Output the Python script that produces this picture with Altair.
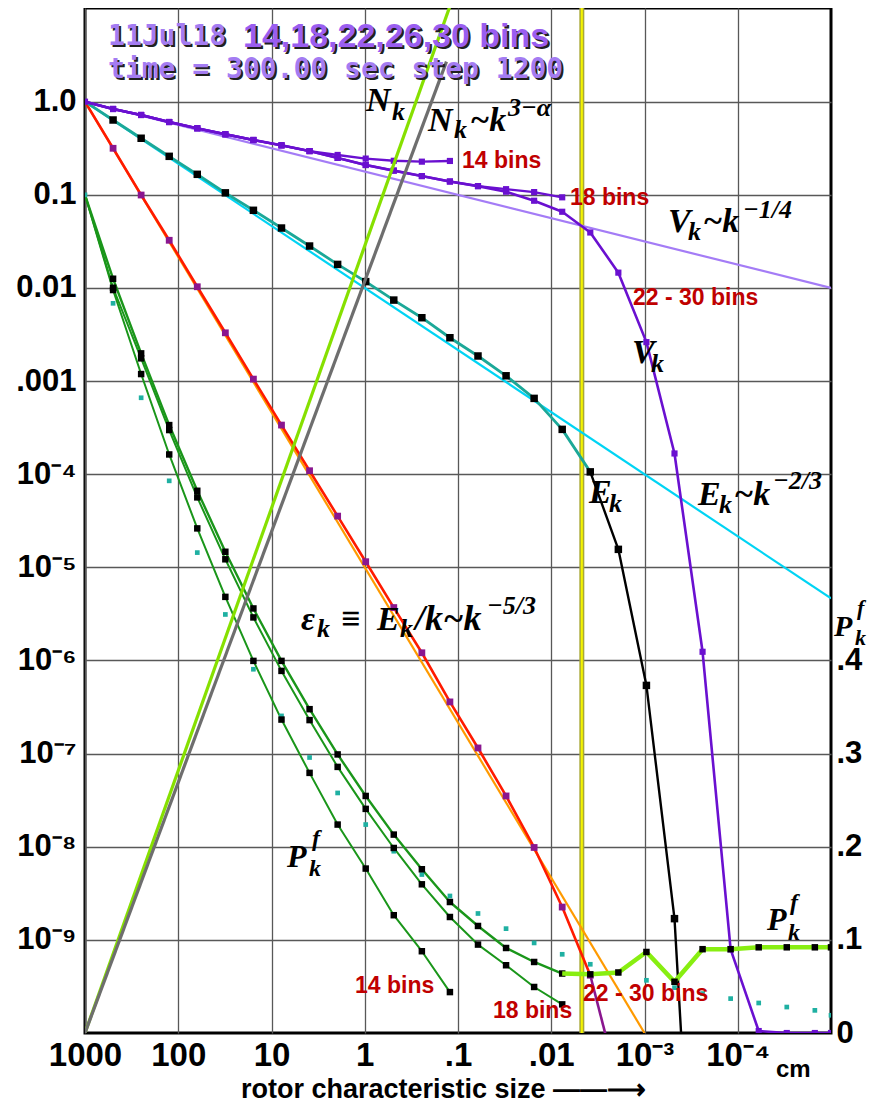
import math
import altair as alt
import pandas as pd

# ---------------- data ----------------
# bin sizes (cm), one bin per factor of two, last one at the chart edge
SIZES = [1000, 500, 250, 125, 62.5, 31.25, 15.63, 7.813, 3.906, 1.953,
         0.9766, 0.4883, 0.2441, 0.1221, 0.06104, 0.03052, 0.01526, 0.00763,
         0.003815, 0.001907, 9.537e-4, 4.768e-4, 2.384e-4, 1.192e-4,
         5.96e-5, 2.98e-5, 1.49e-5, 1.0e-5]

V_14 = [1.0, 0.835, 0.72, 0.605, 0.518, 0.447, 0.388, 0.340, 0.295, 0.268,
        0.245, 0.232, 0.227, 0.231]
V_18 = [1.0, 0.835, 0.72, 0.605, 0.518, 0.447, 0.388, 0.340, 0.295, 0.249,
        0.209, 0.182, 0.159, 0.139, 0.124, 0.115, 0.107, 0.094]
V_30 = [1.0, 0.835, 0.72, 0.605, 0.518, 0.447, 0.388, 0.340, 0.295, 0.249,
        0.209, 0.182, 0.159, 0.139, 0.124, 0.108, 0.0864, 0.0658, 0.0394,
        0.0146, 0.00262, 1.67e-4, 1.24e-6, 7.9e-10, 1.05e-10, 1e-10, 1e-10, 1e-10]

E_K = [1.0, 0.636, 0.405, 0.259, 0.166, 0.105, 0.0682, 0.044, 0.0282, 0.0179,
       0.0117, 0.00741, 0.00479, 0.00292, 0.00186, 0.00114, 6.52e-4, 3.03e-4,
       1.06e-4, 1.56e-5, 5.4e-7, 1.69e-9, 1e-14]

EPS_K = [1.0, 0.316, 0.0995, 0.0325, 0.0103, 0.0033, 0.00105, 3.37e-4, 1.09e-4,
         3.55e-5, 1.15e-5, 3.7e-6, 1.21e-6, 3.59e-7, 1.15e-7, 3.51e-8, 9.82e-9,
         2.25e-9, 4.17e-10, 2.8e-11]

P_14 = [0.1, 0.0095, 0.00119, 1.63e-4, 2.62e-5, 4.82e-6, 9.9e-7, 2.32e-7,
        6.21e-8, 1.73e-8, 5.83e-9, 1.84e-9, 7.55e-10, 2.75e-10]
P_18 = [0.1, 0.01005, 0.001754, 2.98e-4, 5.64e-5, 1.22e-5, 2.9e-6, 7.73e-7,
        2.29e-7, 7.2e-8, 2.55e-8, 9.7e-9, 3.95e-9, 1.76e-9, 8.9e-10, 5.34e-10,
        3.12e-10, 2.03e-10]
P_30 = [0.1, 0.01256, 0.001984, 3.37e-4, 6.64e-5, 1.47e-5, 3.62e-6, 9.9e-7,
        3.0e-7, 9.8e-8, 3.51e-8, 1.35e-8, 5.73e-9, 2.55e-9, 1.41e-9, 8.18e-10,
        5.79e-10, 4.35e-10]
# P_k^f tail on the linear right-hand axis, bins 17 .. 27
P_TAIL = [0.064, 0.063, 0.065, 0.087, 0.055, 0.090, 0.090, 0.092, 0.092, 0.092, 0.092]
P_DOTS = [0.1, 0.00684, 6.62e-4, 8.49e-5, 1.44e-5, 3.12e-6, 8.05e-7, 2.54e-7,
          9.08e-8, 3.78e-8, 1.73e-8, 8.95e-9, 5.03e-9, 2.96e-9, 1.92e-9, 1.32e-9,
          9.27e-10, 7.0e-10, 5.47e-10, 4.41e-10, 3.68e-10, 3.07e-10, 2.65e-10,
          2.34e-10, 2.10e-10, 1.90e-10, 1.75e-10, 1.55e-10]

V_REF_SIZE, V_REF = [1000, 1e-5], [1.0, 0.01]
E_REF_SIZE, E_REF = [1000, 1e-5], [1.0, 4.64e-6]
EPS_REF_SIZE, EPS_REF = [1000, 1e-3], [1.0, 1e-10]
N_K_SIZE, N_K = [1000, 0.1225], [1e-10, 10.5]
N_REF_SIZE, N_REF = [1000, 0.133], [1e-10, 2.69]
CUTOFF = [0.0047]

X_TICKS = [1000, 100, 10, 1, 0.1, 0.01, 0.001, 0.0001]
X_LABELS = ["1000", "100", "10", "1", ".1", ".01", "10⁻³", "10⁻⁴"]
Y_TICKS = [1, 0.1, 0.01, 0.001, 1e-4, 1e-5, 1e-6, 1e-7, 1e-8, 1e-9]
Y_LABELS = ["1.0", "0.1", "0.01", ".001", "10⁻⁴", "10⁻⁵", "10⁻⁶", "10⁻⁷", "10⁻⁸", "10⁻⁹"]
P_TICKS = [0, 0.1, 0.2, 0.3, 0.4]
X_TITLE = "rotor characteristic size ——⟶"

# annotation anchors (data coordinates) and pieces (text, dx px, dy px, font size)
MATH_ANCHORS = {
    "Nk": (0.970, 0.795), "Nref": (0.210, 0.484), "Vref": (5.60e-4, 0.0399),
    "Vk": (1.36e-3, 1.56e-3), "Ek": (3.94e-3, 4.91e-5), "Eref": (2.67e-4, 4.67e-5),
    "eps": (4.83, 2.12e-6), "Pleft": (6.82, 6.05e-9), "Pright": (4.85e-5, 1.28e-9),
    "Paxis": (9.3e-6, 1.85e-6),
}
MATH_PIECES = [
    ("Nk", "N", 0, 0, 34), ("Nk", "k", 26, 9, 26),
    ("Nref", "N", 0, 0, 34), ("Nref", "k", 26, 7, 26), ("Nref", "~k", 42, 0, 34),
    ("Nref", "3−α", 80, -15, 26),
    ("Vref", "V", 0, 0, 34), ("Vref", "k", 20, 8, 26), ("Vref", "~k", 35, 0, 34),
    ("Vref", "−1/4", 75, -14, 26),
    ("Vk", "V", 0, 0, 34), ("Vk", "k", 19, 9, 26),
    ("Ek", "E", 0, 0, 34), ("Ek", "k", 20, 9, 26),
    ("Eref", "E", 0, 0, 34), ("Eref", "k", 21, 8, 26), ("Eref", "~k", 36, 0, 34),
    ("Eref", "−2/3", 75, -16, 26),
    ("eps", "ε", 0, 0, 34), ("eps", "k", 16, 7, 26), ("eps", "≡", 40, 0, 34),
    ("eps", "E", 76, 0, 34), ("eps", "k", 99, 7, 26), ("eps", "/k~k", 114, 0, 36),
    ("eps", "−5/3", 186, -16, 26),
    ("Pleft", "P", 0, 0, 32), ("Pleft", "f", 25, -21, 24), ("Pleft", "k", 22, 9, 24),
    ("Pright", "P", 0, 0, 32), ("Pright", "f", 23, -20, 24), ("Pright", "k", 21, 10, 24),
    ("Paxis", "P", 0, 0, 30), ("Paxis", "f", 23, -21, 22), ("Paxis", "k", 21, 9, 22),
]
RED_TEXT = ["14 bins", "18 bins", "22 - 30 bins", "14 bins", "18 bins", "22 - 30 bins"]
RED_X = [0.0906, 6.30e-3, 1.33e-3, 1.27, 0.0422, 4.57e-3]
RED_Y = [0.194, 0.0778, 6.56e-3, 2.69e-10, 1.45e-10, 2.21e-10]
MONO_TEXT = ["11Jul18", "time = 300.00 sec step 1200"]
MONO_X = [566, 566]
MONO_Y = [4.06, 1.80]
SANS_TEXT = ["14,18,22,26,30 bins"]
SANS_X = [20.2]
SANS_Y = [3.87]
CM_TEXT, CM_X, CM_Y = ["cm"], [3.89e-5], [3.37e-11]

# ---------------- scales / axes ----------------
W, H = 746, 1025
PXX = W / 8.0                        # px per decade, x
PXY = H / math.log10(10.14 / 1e-10)  # px per decade, y
XS = alt.Scale(type="log", domain=[1e-5, 1000], reverse=True, nice=False)
YS = alt.Scale(type="log", domain=[1e-10, 10.14], nice=False)
RS = alt.Scale(type="linear", domain=[0, 1.1006], nice=False, zero=False)
SANS = "Liberation Sans, Arial"
SERIF = "Liberation Serif, Times New Roman"
MONO = "DejaVu Sans Mono"
GRID = "#585858"


def chain(ticks, labels):
    e = "round(log(datum.value)/LN10)"
    s = "".join(f"{e} == {round(math.log10(t))} ? '{l}' : " for t, l in zip(ticks, labels))
    return s + "''"


x_axis = alt.Axis(values=X_TICKS, labelExpr=chain(X_TICKS, X_LABELS), grid=True,
                  gridColor=GRID, gridWidth=1.3, ticks=False, tickSize=0, domain=False,
                  labelFont=SANS, labelFontSize=33, labelFontWeight="bold",
                  labelColor="black", labelPadding=6, labelFlush=False, labelOverlap=False,
                  title=X_TITLE, titleFont=SANS, titleFontSize=27, titleFontWeight="bold",
                  titleColor="black", titleX=358, titleY=64, titleBaseline="alphabetic",
                  titleAlign="center")
y_axis = alt.Axis(orient="left", values=Y_TICKS, labelExpr=chain(Y_TICKS, Y_LABELS),
                  grid=True, gridColor=GRID, gridWidth=1.3, ticks=False, tickSize=0,
                  domain=False, labelFont=SANS, labelFontSize=31, labelFontWeight="bold",
                  labelColor="black", labelPadding=9, labelOverlap=False, labelFlush=False,
                  title=None)
p_axis = alt.Axis(orient="right", values=P_TICKS,
                  labelExpr="datum.value == 0 ? '0' : replace(format(datum.value, '.1f'), '0.', '.')",
                  grid=False, ticks=False, tickSize=0, domain=False, labelFont=SANS,
                  labelFontSize=31, labelFontWeight="bold", labelColor="black",
                  labelPadding=5, labelOverlap=False, labelFlush=False, title=None)

# identical encodings (and axes) in every layer so the axes merge cleanly
X = alt.X("size:Q", scale=XS, axis=x_axis)
Y = alt.Y("val:Q", scale=YS, axis=y_axis)
YP = alt.Y("p:Q", scale=RS, axis=p_axis)


def binned(vals, start=0):
    return pd.DataFrame({"size": SIZES[start:start + len(vals)], "val": vals})


def pts(sizes, vals):
    return pd.DataFrame({"size": sizes, "val": vals})


def line(df, color, width):
    return alt.Chart(df).mark_line(color=color, strokeWidth=width, clip=True,
                                   strokeJoin="round").encode(X, Y)


def squares(df, color, size):
    return alt.Chart(df).mark_square(color=color, size=size, opacity=1, clip=True).encode(X, Y)


# math annotation table
rows = []
for key, txt, dx, dy, fs in MATH_PIECES:
    ax, ay = MATH_ANCHORS[key]
    rows.append({"size": ax / 10 ** (dx / PXX), "val": ay / 10 ** (dy / PXY), "t": txt, "fs": fs})
math_df = pd.DataFrame(rows)

PURPLE = "#6a10d0"
layers = [
    alt.Chart(pd.DataFrame({"size": CUTOFF})).mark_rule(color="#a8a838", strokeWidth=5).encode(X),
    alt.Chart(pd.DataFrame({"size": CUTOFF})).mark_rule(color="#f4f400", strokeWidth=2).encode(X),
    line(pts(V_REF_SIZE, V_REF), "#a47cf6", 2.2),
    line(pts(E_REF_SIZE, E_REF), "#00d4f4", 2.2),
    line(pts(EPS_REF_SIZE, EPS_REF), "#ff9a00", 2.2),
    line(binned(P_14), "#1a961a", 2),
    line(binned(P_18), "#1a961a", 2),
    line(binned(P_30), "#1a961a", 2.4),
    squares(binned(P_DOTS), "#1fb0a2", 22),
    squares(binned(P_14[1:], 1), "black", 42),
    squares(binned(P_18[1:], 1), "black", 42),
    squares(binned(P_30[1:], 1), "black", 42),
    line(binned(EPS_K[:19]), "#ff1a00", 2.6),
    line(binned(EPS_K[18:], 18), "#8a168f", 2.6),
    squares(binned(EPS_K[1:19], 1), "#8a168f", 46),
    line(binned(E_K[:19]), "#1ba898", 2.8),
    line(binned(E_K[18:], 18), "black", 2.4),
    squares(binned(E_K[1:22], 1), "black", 56),
    line(binned(V_14), PURPLE, 2.4),
    line(binned(V_18), PURPLE, 2.4),
    line(binned(V_30), PURPLE, 2.6),
    squares(binned(V_14[1:], 1), PURPLE, 38),
    squares(binned(V_18[1:], 1), PURPLE, 38),
    squares(binned(V_30), PURPLE, 38),
    line(pts(N_K_SIZE, N_K), "#86e000", 3.2),
    line(pts(N_REF_SIZE, N_REF), "#6e6e6e", 3.2),
    alt.Chart(math_df).mark_text(align="left", baseline="alphabetic", font=SERIF,
                                 fontStyle="italic", fontWeight="bold", color="black")
       .encode(X, Y, text="t:N", size=alt.Size("fs:Q", scale=None)),
    alt.Chart(pd.DataFrame({"size": RED_X, "val": RED_Y, "t": RED_TEXT}))
       .mark_text(align="left", baseline="alphabetic", font=SANS, fontWeight="bold",
                  fontSize=23, color="#c00000").encode(X, Y, text="t:N"),
    alt.Chart(pd.DataFrame({"size": CM_X, "val": CM_Y, "t": CM_TEXT}))
       .mark_text(align="left", baseline="alphabetic", font=SANS, fontWeight="bold",
                  fontSize=24, color="black").encode(X, Y, text="t:N"),
]
head_mono = pd.DataFrame({"size": MONO_X, "val": MONO_Y, "t": MONO_TEXT})
head_sans = pd.DataFrame({"size": SANS_X, "val": SANS_Y, "t": SANS_TEXT})
for dfh, font, fs, col in [(head_mono, MONO, 28, "#a47cf2"), (head_sans, SANS, 34, "#9a5ef0")]:
    layers.append(alt.Chart(dfh).mark_text(align="left", baseline="alphabetic", font=font,
                  fontWeight="bold", fontSize=fs, color="#202020", dx=2, dy=2)
                  .encode(X, Y, text="t:N"))
    layers.append(alt.Chart(dfh).mark_text(align="left", baseline="alphabetic", font=font,
                  fontWeight="bold", fontSize=fs, color=col).encode(X, Y, text="t:N"))

left = alt.layer(*layers)

tail = pd.DataFrame({"size": SIZES[17:17 + len(P_TAIL)], "p": P_TAIL})
right = alt.layer(
    alt.Chart(tail).mark_line(color="#88ee11", strokeWidth=4.5, clip=True).encode(X, YP),
    alt.Chart(tail.iloc[1:]).mark_square(color="black", size=42, opacity=1, clip=True).encode(X, YP),
)

chart = alt.layer(left, right).resolve_scale(y="independent").properties(
    width=W, height=H,
    padding={"left": 77, "top": 0, "right": 42, "bottom": 76},
    autosize=alt.AutoSizeParams(type="none"),
    background="white",
).configure_view(stroke="black", strokeWidth=3)

chart.save("out.html", embed_options={"renderer": "svg", "actions": False})
